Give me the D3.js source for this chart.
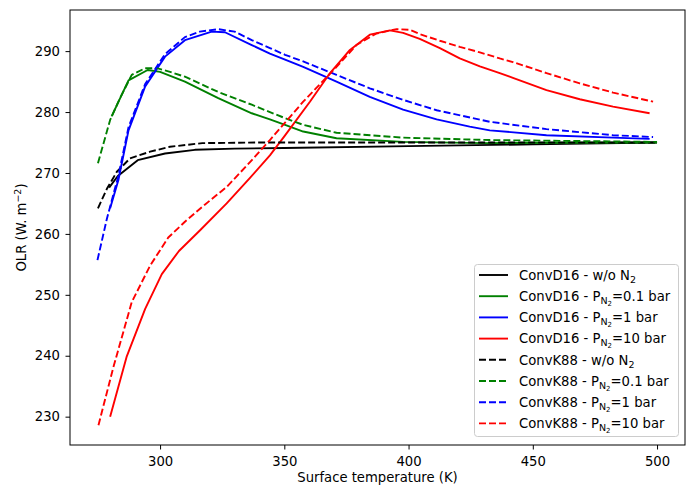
<!DOCTYPE html>
<html><head><meta charset="utf-8">
<script src="https://cdn.jsdelivr.net/npm/d3@7"></script>
<style>
body{margin:0;background:#fff;}
text{font-family:"DejaVu Sans",sans-serif;}
</style></head>
<body><svg id="c" width="686" height="486"></svg>
<script>
// ---- data ----
const d16NoN2_T = [279.5, 283, 291, 302, 314, 330, 350, 400, 450, 500];
const d16NoN2_V = [267.6, 269.5, 272.1, 273.2, 273.8, 274.0, 274.1, 274.4, 274.7, 275.0];
const k88NoN2_T = [275, 278.6, 282.6, 287.9, 296, 304, 317, 340, 400, 500];
const k88NoN2_V = [264.2, 267.4, 270.2, 272.4, 273.5, 274.3, 274.9, 275.0, 275.0, 275.0];

const d16P01_T = [280.5, 287.3, 295, 300, 310, 323.4, 336.9, 344.2, 350.3, 357.6, 371, 397.8, 430, 500];
const d16P01_V = [279.3, 285.2, 286.9, 286.6, 285.0, 282.3, 279.8, 278.8, 277.9, 276.8, 275.7, 275.1, 274.9, 275.0];
const k88P01_T = [275, 279.9, 283.9, 288.6, 294, 298.7, 304, 310, 323.4, 336.9, 344.2, 350.3, 357.6, 371, 397.8, 432.7, 500];
const k88P01_V = [271.6, 278.7, 282.3, 286.1, 287.2, 287.2, 286.6, 285.8, 283.3, 281.2, 280.0, 279.0, 277.9, 276.6, 275.8, 275.4, 275.1];

const d16P1_T = [279.9, 283.2, 287.3, 294, 302, 310, 320.8, 326.1, 336.9, 344.2, 350.3, 357.6, 371, 384.4, 397.8, 411.3, 424.6, 432.7, 455.5, 482.3, 497];
const d16P1_V = [264.2, 268.8, 277.0, 284.2, 289.1, 291.8, 293.2, 293.1, 291.0, 289.6, 288.6, 287.4, 285.0, 282.5, 280.4, 278.8, 277.6, 277.0, 276.2, 275.8, 275.6];
const k88P1_T = [274.8, 278.6, 283.2, 287.3, 294, 302, 310, 316, 323.4, 330, 336.9, 344.2, 350.3, 357.6, 371, 384.4, 397.8, 411.3, 432.7, 455.5, 482.3, 498.4];
const k88P1_V = [255.7, 262.5, 269.5, 277.5, 284.6, 289.5, 292.3, 293.2, 293.6, 293.2, 291.8, 290.5, 289.4, 288.3, 286.1, 283.9, 282.0, 280.3, 278.4, 277.2, 276.2, 275.9];

const d16P10_T = [279.9, 286.6, 294, 300.7, 307.6, 316.1, 326.8, 336, 344.2, 350, 360.3, 368.4, 376.4, 384.4, 392.5, 397.8, 404.5, 412.6, 420.6, 428.7, 436.7, 442, 455.5, 468.9, 482.3, 497];
const d16P10_V = [230.0, 239.9, 247.7, 253.4, 257.2, 260.6, 265.0, 269.1, 272.9, 276.0, 281.7, 286.4, 290.2, 292.7, 293.4, 293.0, 292.0, 290.5, 288.8, 287.5, 286.4, 285.6, 283.6, 282.1, 280.9, 279.8];
const k88P10_T = [275.2, 281.2, 288.6, 296, 303.3, 310, 318, 326.8, 336, 344.2, 357.6, 371, 379, 387.1, 395.2, 400.5, 404.5, 412.6, 420.6, 428.7, 436.7, 442, 455.5, 468.9, 482.3, 498.4];
const k88P10_V = [228.6, 238.1, 248.8, 254.8, 259.4, 262.0, 264.8, 267.7, 271.7, 275.4, 281.7, 287.4, 291.0, 292.9, 293.6, 293.5, 292.8, 291.7, 290.7, 289.8, 288.8, 288.2, 286.4, 284.7, 283.2, 281.7];

const xTicks = [300, 350, 400, 450, 500];
const yTicks = [230, 240, 250, 260, 270, 280, 290];

const seriesNames = ["ConvD16", "ConvD16", "ConvD16", "ConvD16", "ConvK88", "ConvK88", "ConvK88", "ConvK88"];
const seriesCases = ["w/o", "0.1", "1", "10", "w/o", "0.1", "1", "10"];
const seriesColors = ["#000000", "#008000", "#0000ff", "#ff0000", "#000000", "#008000", "#0000ff", "#ff0000"];
const seriesDashed = [false, false, false, false, true, true, true, true];
const seriesT = [d16NoN2_T, d16P01_T, d16P1_T, d16P10_T, k88NoN2_T, k88P01_T, k88P1_T, k88P10_T];
const seriesV = [d16NoN2_V, d16P01_V, d16P1_V, d16P10_V, k88NoN2_V, k88P01_V, k88P1_V, k88P10_V];

// ---- layout ----
const L = 70, R = 685, T = 10, B = 445;
const svg = d3.select("#c");
const x = d3.scaleLinear().domain([263.75, 511.25]).range([L, R]);
const y = d3.scaleLinear().domain([225.35, 296.75]).range([B, T]);

const fs = 13.2;

// lines
const line = d3.line().x(d => x(d[0])).y(d => y(d[1]));
const g = svg.append("g");
seriesT.forEach((ts, i) => {
  const pts = ts.map((t, j) => [t, seriesV[i][j]]);
  g.append("path").attr("d", line(pts)).attr("fill", "none")
    .attr("stroke", seriesColors[i]).attr("stroke-width", 1.9)
    .attr("stroke-dasharray", seriesDashed[i] ? "7,3" : null)
    .attr("stroke-linejoin", "round");
});

// axes
const xa = svg.append("g").attr("transform", `translate(0,${B})`)
  .call(d3.axisBottom(x).tickValues(xTicks).tickSize(4.5).tickPadding(7.3).tickFormat(d3.format("d")));
const ya = svg.append("g").attr("transform", `translate(${L},0)`)
  .call(d3.axisLeft(y).tickValues(yTicks).tickSize(4.5).tickPadding(5.5).tickFormat(d3.format("d")));
[xa, ya].forEach(a => {
  a.select(".domain").remove();
  a.selectAll("line").attr("stroke", "#000").attr("stroke-width", 1);
  a.selectAll("text").attr("fill", "#000").style("font-size", fs + "px").style("font-family", "DejaVu Sans");
});
// frame
svg.append("rect").attr("x", L).attr("y", T).attr("width", R - L).attr("height", B - T)
  .attr("fill", "none").attr("stroke", "#000").attr("stroke-width", 1);

// axis labels
svg.append("text").attr("x", (L + R) / 2).attr("y", 481.5).attr("text-anchor", "middle")
  .style("font-size", fs + "px").text("Surface temperature (K)");
const yl = svg.append("text").attr("transform", `translate(26,${(T + B) / 2}) rotate(-90)`)
  .attr("text-anchor", "middle").style("font-size", fs + "px");
yl.append("tspan").text("OLR (W. m");
yl.append("tspan").attr("dy", -5).style("font-size", "9.5px").text("−2");
yl.append("tspan").attr("dy", 5).text(")");

// legend
const lg = svg.append("g");
const lx = 474.5, ly = 264.5, lw = 204, lh = 172;
lg.append("rect").attr("x", lx).attr("y", ly).attr("width", lw).attr("height", lh)
  .attr("rx", 3).attr("fill", "#fff").attr("fill-opacity", 0.8).attr("stroke", "#ccc").attr("stroke-width", 1);
seriesNames.forEach((nm, i) => {
  const cy = 275 + i * 21.2;
  lg.append("line").attr("x1", 479).attr("x2", 508).attr("y1", cy).attr("y2", cy)
    .attr("stroke", seriesColors[i]).attr("stroke-width", 1.9)
    .attr("stroke-dasharray", seriesDashed[i] ? "7,3" : null);
  const t = lg.append("text").attr("x", 519).attr("y", cy + 4.8).style("font-size", fs + "px");
  if (seriesCases[i] === "w/o") {
    t.append("tspan").text(nm + " - w/o N");
    t.append("tspan").attr("dy", 3).style("font-size", "9.5px").text("2");
  } else {
    t.append("tspan").text(nm + " - P");
    t.append("tspan").attr("dy", 3).style("font-size", "9.5px").text("N");
    t.append("tspan").attr("dy", 2).style("font-size", "7px").text("2");
    t.append("tspan").attr("dy", -5).text("=" + seriesCases[i] + " bar");
  }
});
</script></body></html>
